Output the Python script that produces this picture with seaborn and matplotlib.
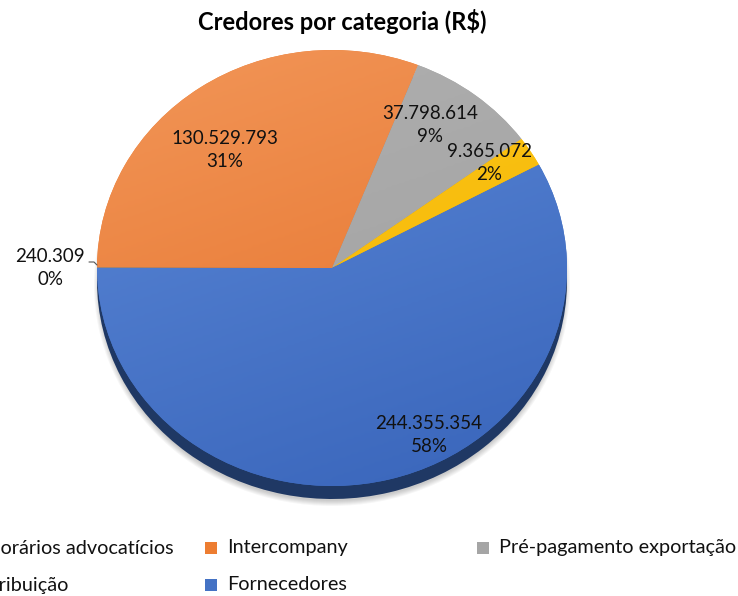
import matplotlib
matplotlib.use('Agg')
import matplotlib.pyplot as plt
import matplotlib.colors as mcolors
from matplotlib.patches import Rectangle, Ellipse
import numpy as np
import seaborn as sns

# data
categories = ['Honorários advocatícios', 'Intercompany', 'Pré-pagamento exportação',
              'Distribuição', 'Fornecedores']
values = [240309, 130529793, 37798614, 9365072, 244355354]
value_labels = ['240.309', '130.529.793', '37.798.614', '9.365.072', '244.355.354']
pct_labels = ['0%', '31%', '9%', '2%', '58%']

sns.set_theme(style='white')
plt.rcParams['font.family'] = ['Lato', 'DejaVu Sans']

palette = sns.color_palette(['#7F7F7F', '#ED7D31', '#A5A5A5', '#FFC000', '#4472C4'])
light = ['#9A9A9A', '#F29658', '#B0B0B0', '#FFC81E', '#5C89D8']
dark = ['#6F6F6F', '#E5712A', '#A0A0A0', '#F2B500', '#3C68BD']
side = ['#404040', '#8A4516', '#5A5A5A', '#8A6A00', '#1F3864']

W, H = 738, 596
fig = plt.figure(figsize=(W / 100, H / 100), dpi=100)

# pie geometry in pixels (top-left origin)
cx, cy, rx, ry = 332, 268, 235, 218
depth = 13


def px_axes(x0, y0, w, h):
    return fig.add_axes([x0 / W, 1 - (y0 + h) / H, w / W, h / H])


# soft shadow
ax_sh = px_axes(0, 0, W, H)
ax_sh.set_xlim(0, W)
ax_sh.set_ylim(H, 0)
ax_sh.axis('off')
for k in range(6):
    ax_sh.add_patch(Ellipse((cx, cy + depth + 4), 2 * rx + 6 - k * 2, 2 * ry + 6 - k * 2,
                            color='black', alpha=0.035, lw=0))

# side of the 3D pie
ax_side = px_axes(cx - rx, cy - ry + depth, 2 * rx, 2 * ry)
ax_side.pie(values, colors=side, startangle=180, counterclock=False,
            wedgeprops=dict(linewidth=0))
ax_side.set_aspect('auto')
ax_side.set_xlim(-1, 1)
ax_side.set_ylim(-1, 1)
ax_side.axis('off')

# top face
ax = px_axes(cx - rx, cy - ry, 2 * rx, 2 * ry)
wedges, _ = ax.pie(values, colors=palette, startangle=180, counterclock=False,
                   wedgeprops=dict(linewidth=0))
ax.set_aspect('auto')
gx, gy = np.meshgrid(np.linspace(0, 1, 200), np.linspace(0, 1, 200))
grad = np.clip(0.3 * gx + 0.8 * gy, 0, 1)
for w, c1, c2 in zip(wedges, light, dark):
    cmap = mcolors.LinearSegmentedColormap.from_list('g', [c1, c2])
    im = ax.imshow(grad, extent=(-1, 1, -1, 1), cmap=cmap, aspect='auto',
                   interpolation='bilinear', zorder=2)
    im.set_clip_path(w)
ax.set_xlim(-1, 1)
ax.set_ylim(-1, 1)
ax.axis('off')

# overlay for labels and legend
ov = px_axes(0, 0, W, H)
ov.set_xlim(0, W)
ov.set_ylim(H, 0)
ov.axis('off')

ov.text(342, 22, 'Credores por categoria (R$)', ha='center', va='center',
        fontsize=17, fontweight='bold', color='#000000')

label_pos = [(50, 268), (225, 150), (430, 125), (489, 163), (429, 435)]
for (x, y), v, p in zip(label_pos, value_labels, pct_labels):
    ov.text(x, y, f'{v}\n{p}', ha='center', va='center', fontsize=13.5,
            linespacing=1.4, color='#111111')
ov.plot([89, 94, 97], [262, 262, 265], color='#555555', lw=0.8)

# legend (left column cut off like the source)
fs = 14.3
fig.canvas.draw()
r = fig.canvas.get_renderer()


def text_w(s):
    tmp = ov.text(0, 0, s, fontsize=fs)
    wpx = tmp.get_window_extent(renderer=r).width
    tmp.remove()
    return wpx


left = -(text_w('Hon') + text_w('Dist')) / 2
legend_items = [(left - 22, 548, 0), (left - 22, 585, 3),
                (205, 548, 1), (205, 585, 4), (477, 548, 2)]
for x, y, i in legend_items:
    ov.add_patch(Rectangle((x, y - 6), 12, 12, color=palette[i], lw=0))
    ov.text(x + 22, y, categories[i], ha='left', va='center', fontsize=fs,
            color='#111111')

fig.savefig('out.png', dpi=100)
